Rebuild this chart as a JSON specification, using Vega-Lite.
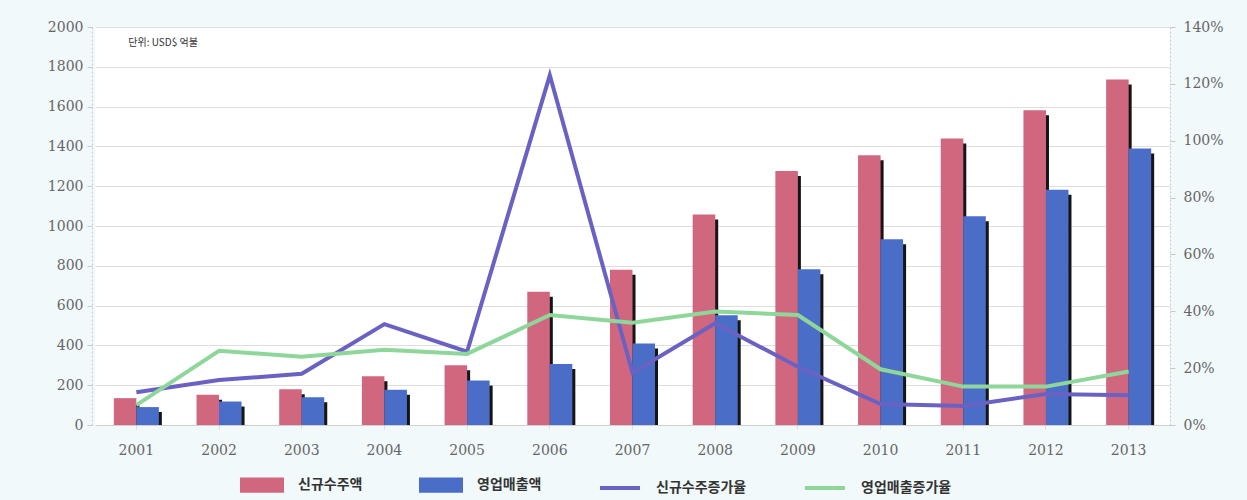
{
  "$schema": "https://vega.github.io/schema/vega-lite/v6.json",
  "width": 1075,
  "height": 398,
  "autosize": {"type": "none"},
  "padding": {"left": 95, "top": 27, "right": 77, "bottom": 75},
  "background": "#f1f9fb",
  "config": {
    "view": {"fill": "white", "stroke": null},
    "font": "DejaVu Serif",
    "axisY": {
      "labelFont": "DejaVu Serif",
      "labelFontSize": 14,
      "labelColor": "#666",
      "domainColor": "#c8c8c8",
      "domainDash": [2, 2],
      "tickColor": "#c8c8c8",
      "tickSize": 5,
      "labelOverlap": false
    }
  },
  "data": {
    "values": [
      {"year": "2001", "series": "신규수주액", "kind": "amount", "value": 135},
      {"year": "2002", "series": "신규수주액", "kind": "amount", "value": 152},
      {"year": "2003", "series": "신규수주액", "kind": "amount", "value": 180},
      {"year": "2004", "series": "신규수주액", "kind": "amount", "value": 245},
      {"year": "2005", "series": "신규수주액", "kind": "amount", "value": 300},
      {"year": "2006", "series": "신규수주액", "kind": "amount", "value": 670},
      {"year": "2007", "series": "신규수주액", "kind": "amount", "value": 780},
      {"year": "2008", "series": "신규수주액", "kind": "amount", "value": 1058},
      {"year": "2009", "series": "신규수주액", "kind": "amount", "value": 1276},
      {"year": "2010", "series": "신규수주액", "kind": "amount", "value": 1355},
      {"year": "2011", "series": "신규수주액", "kind": "amount", "value": 1440},
      {"year": "2012", "series": "신규수주액", "kind": "amount", "value": 1582},
      {"year": "2013", "series": "신규수주액", "kind": "amount", "value": 1736},
      {"year": "2001", "series": "영업매출액", "kind": "amount", "value": 90},
      {"year": "2002", "series": "영업매출액", "kind": "amount", "value": 118},
      {"year": "2003", "series": "영업매출액", "kind": "amount", "value": 140},
      {"year": "2004", "series": "영업매출액", "kind": "amount", "value": 177},
      {"year": "2005", "series": "영업매출액", "kind": "amount", "value": 223},
      {"year": "2006", "series": "영업매출액", "kind": "amount", "value": 307},
      {"year": "2007", "series": "영업매출액", "kind": "amount", "value": 409},
      {"year": "2008", "series": "영업매출액", "kind": "amount", "value": 552},
      {"year": "2009", "series": "영업매출액", "kind": "amount", "value": 783},
      {"year": "2010", "series": "영업매출액", "kind": "amount", "value": 934},
      {"year": "2011", "series": "영업매출액", "kind": "amount", "value": 1049},
      {"year": "2012", "series": "영업매출액", "kind": "amount", "value": 1182},
      {"year": "2013", "series": "영업매출액", "kind": "amount", "value": 1389},
      {"year": "2001", "series": "신규수주증가율", "kind": "rate", "value": 11.5},
      {"year": "2002", "series": "신규수주증가율", "kind": "rate", "value": 15.8},
      {"year": "2003", "series": "신규수주증가율", "kind": "rate", "value": 18},
      {"year": "2004", "series": "신규수주증가율", "kind": "rate", "value": 35.5},
      {"year": "2005", "series": "신규수주증가율", "kind": "rate", "value": 25.8},
      {"year": "2006", "series": "신규수주증가율", "kind": "rate", "value": 123},
      {"year": "2007", "series": "신규수주증가율", "kind": "rate", "value": 18.4},
      {"year": "2008", "series": "신규수주증가율", "kind": "rate", "value": 35.8},
      {"year": "2009", "series": "신규수주증가율", "kind": "rate", "value": 20.5},
      {"year": "2010", "series": "신규수주증가율", "kind": "rate", "value": 7.4},
      {"year": "2011", "series": "신규수주증가율", "kind": "rate", "value": 6.7},
      {"year": "2012", "series": "신규수주증가율", "kind": "rate", "value": 10.9},
      {"year": "2013", "series": "신규수주증가율", "kind": "rate", "value": 10.5},
      {"year": "2001", "series": "영업매출증가율", "kind": "rate", "value": 7},
      {"year": "2002", "series": "영업매출증가율", "kind": "rate", "value": 26.1},
      {"year": "2003", "series": "영업매출증가율", "kind": "rate", "value": 24},
      {"year": "2004", "series": "영업매출증가율", "kind": "rate", "value": 26.5},
      {"year": "2005", "series": "영업매출증가율", "kind": "rate", "value": 25},
      {"year": "2006", "series": "영업매출증가율", "kind": "rate", "value": 38.7},
      {"year": "2007", "series": "영업매출증가율", "kind": "rate", "value": 36},
      {"year": "2008", "series": "영업매출증가율", "kind": "rate", "value": 39.9},
      {"year": "2009", "series": "영업매출증가율", "kind": "rate", "value": 38.7},
      {"year": "2010", "series": "영업매출증가율", "kind": "rate", "value": 19.6},
      {"year": "2011", "series": "영업매출증가율", "kind": "rate", "value": 13.5},
      {"year": "2012", "series": "영업매출증가율", "kind": "rate", "value": 13.5},
      {"year": "2013", "series": "영업매출증가율", "kind": "rate", "value": 18.8}
    ]
  },
  "encoding": {
    "x": {
      "field": "year",
      "type": "ordinal",
      "scale": {"paddingInner": 0.455, "paddingOuter": 0.2275},
      "axis": {
        "title": null,
        "labelAngle": 0,
        "labelFont": "DejaVu Serif",
        "labelFontSize": 14,
        "labelColor": "#666",
        "domainColor": "#cfcfcf",
        "tickColor": "#dddddd",
        "tickSize": 4,
        "labelPadding": 14
      }
    }
  },
  "layer": [
    {
      "encoding": {
        "y": {
          "field": "value",
          "type": "quantitative",
          "stack": null,
          "scale": {"domain": [0, 2000]},
          "axis": {
            "title": null,
            "values": [0, 200, 400, 600, 800, 1000, 1200, 1400, 1600, 1800, 2000],
            "format": "d",
            "grid": true,
            "gridColor": "#dedede",
            "labelPadding": 4,
            "offset": 3
          }
        }
      },
      "layer": [
        {
          "transform": [{"filter": "datum.series == '신규수주액'"}],
          "mark": {"type": "bar", "color": "#151515", "width": {"band": 0.5}, "xOffset": -8.25, "yOffset": 5, "y2Offset": 0}
        },
        {
          "transform": [{"filter": "datum.series == '영업매출액'"}],
          "mark": {"type": "bar", "color": "#151515", "width": {"band": 0.5}, "xOffset": 14.25, "yOffset": 5, "y2Offset": 0}
        },
        {
          "transform": [{"filter": "datum.kind == 'amount'"}],
          "mark": {"type": "bar", "width": {"band": 0.5}, "xOffset": {"expr": "datum.series == '신규수주액' ? -11.25 : 11.25"}},
          "encoding": {
            "color": {
              "field": "series",
              "type": "nominal",
              "scale": {
                "domain": ["신규수주액", "영업매출액", "신규수주증가율", "영업매출증가율"],
                "range": ["#d1677f", "#4a6ec8", "#6a62c2", "#8fd69a"]
              },
              "legend": {
                "orient": "none",
                "legendX": 145,
                "legendY": 436,
                "direction": "horizontal",
                "title": null,
                "labelFont": "Noto Sans CJK KR",
                "labelFontSize": 14,
                "labelFontWeight": "bold",
                "labelColor": "#333",
                "symbolSize": 1600,
                "labelOffset": 14,
                "columnPadding": 50,
                "encode": {
                  "symbols": {
                    "update": {
                      "shape": {"signal": "(datum.value == '신규수주액' || datum.value == '영업매출액') ? 'M-1,-0.28H1V0.28H-1Z' : 'M-1,0H1'"},
                      "fill": {"signal": "datum.value == '신규수주액' ? '#d1677f' : datum.value == '영업매출액' ? '#4a6ec8' : 'transparent'"},
                      "stroke": {"signal": "datum.value == '신규수주증가율' ? '#6a62c2' : datum.value == '영업매출증가율' ? '#8fd69a' : 'transparent'"},
                      "strokeWidth": {"value": 4},
                      "opacity": {"value": 1},
                      "fillOpacity": {"value": 1},
                      "strokeOpacity": {"value": 1}
                    }
                  }
                }
              }
            }
          }
        },
        {
          "data": {"values": [{"note": "단위: USD$ 억불", "pos": 1920}]},
          "mark": {"type": "text", "align": "left", "baseline": "middle", "dx": -8, "font": "Noto Sans CJK KR", "fontSize": 10, "color": "#333"},
          "encoding": {
            "text": {"field": "note"},
            "x": {"datum": "2001"},
            "y": {"field": "pos", "type": "quantitative"}
          }
        }
      ]
    },
    {
      "transform": [{"filter": "datum.kind == 'rate'"}],
      "mark": {"type": "line", "strokeWidth": 4},
      "encoding": {
        "y": {
          "field": "value",
          "type": "quantitative",
          "scale": {"domain": [0, 140]},
          "axis": {
            "orient": "right",
            "title": null,
            "values": [0, 20, 40, 60, 80, 100, 120, 140],
            "labelExpr": "datum.value + '%'",
            "grid": false,
            "labelPadding": 8
          }
        },
        "color": {"field": "series", "type": "nominal"}
      }
    }
  ],
  "resolve": {"scale": {"y": "independent"}}
}
